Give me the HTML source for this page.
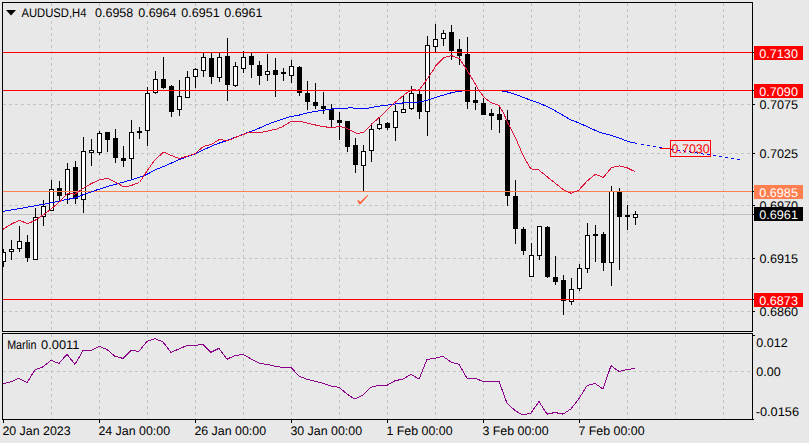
<!DOCTYPE html>
<html><head><meta charset="utf-8"><title>AUDUSD H4</title>
<style>
html,body{margin:0;padding:0;background:#e8e8e8;}
body{width:809px;height:443px;overflow:hidden;font-family:"Liberation Sans",sans-serif;}
</style></head><body>
<svg width="809" height="443" viewBox="0 0 809 443" shape-rendering="crispEdges" style="display:block">
<rect width="809" height="443" fill="#e8e8e8"/>
<line x1="51.5" y1="3" x2="51.5" y2="331" stroke="#c4c4c4" stroke-dasharray="3 3"/>
<line x1="51.5" y1="334" x2="51.5" y2="419" stroke="#c4c4c4" stroke-dasharray="3 3"/>
<line x1="99.5" y1="3" x2="99.5" y2="331" stroke="#c4c4c4" stroke-dasharray="3 3"/>
<line x1="99.5" y1="334" x2="99.5" y2="419" stroke="#c4c4c4" stroke-dasharray="3 3"/>
<line x1="147.5" y1="3" x2="147.5" y2="331" stroke="#c4c4c4" stroke-dasharray="3 3"/>
<line x1="147.5" y1="334" x2="147.5" y2="419" stroke="#c4c4c4" stroke-dasharray="3 3"/>
<line x1="195.5" y1="3" x2="195.5" y2="331" stroke="#c4c4c4" stroke-dasharray="3 3"/>
<line x1="195.5" y1="334" x2="195.5" y2="419" stroke="#c4c4c4" stroke-dasharray="3 3"/>
<line x1="243.5" y1="3" x2="243.5" y2="331" stroke="#c4c4c4" stroke-dasharray="3 3"/>
<line x1="243.5" y1="334" x2="243.5" y2="419" stroke="#c4c4c4" stroke-dasharray="3 3"/>
<line x1="291.5" y1="3" x2="291.5" y2="331" stroke="#c4c4c4" stroke-dasharray="3 3"/>
<line x1="291.5" y1="334" x2="291.5" y2="419" stroke="#c4c4c4" stroke-dasharray="3 3"/>
<line x1="339.5" y1="3" x2="339.5" y2="331" stroke="#c4c4c4" stroke-dasharray="3 3"/>
<line x1="339.5" y1="334" x2="339.5" y2="419" stroke="#c4c4c4" stroke-dasharray="3 3"/>
<line x1="387.5" y1="3" x2="387.5" y2="331" stroke="#c4c4c4" stroke-dasharray="3 3"/>
<line x1="387.5" y1="334" x2="387.5" y2="419" stroke="#c4c4c4" stroke-dasharray="3 3"/>
<line x1="435.5" y1="3" x2="435.5" y2="331" stroke="#c4c4c4" stroke-dasharray="3 3"/>
<line x1="435.5" y1="334" x2="435.5" y2="419" stroke="#c4c4c4" stroke-dasharray="3 3"/>
<line x1="483.5" y1="3" x2="483.5" y2="331" stroke="#c4c4c4" stroke-dasharray="3 3"/>
<line x1="483.5" y1="334" x2="483.5" y2="419" stroke="#c4c4c4" stroke-dasharray="3 3"/>
<line x1="531.5" y1="3" x2="531.5" y2="331" stroke="#c4c4c4" stroke-dasharray="3 3"/>
<line x1="531.5" y1="334" x2="531.5" y2="419" stroke="#c4c4c4" stroke-dasharray="3 3"/>
<line x1="579.5" y1="3" x2="579.5" y2="331" stroke="#c4c4c4" stroke-dasharray="3 3"/>
<line x1="579.5" y1="334" x2="579.5" y2="419" stroke="#c4c4c4" stroke-dasharray="3 3"/>
<line x1="627.5" y1="3" x2="627.5" y2="331" stroke="#c4c4c4" stroke-dasharray="3 3"/>
<line x1="627.5" y1="334" x2="627.5" y2="419" stroke="#c4c4c4" stroke-dasharray="3 3"/>
<line x1="675.5" y1="3" x2="675.5" y2="331" stroke="#c4c4c4" stroke-dasharray="3 3"/>
<line x1="675.5" y1="334" x2="675.5" y2="419" stroke="#c4c4c4" stroke-dasharray="3 3"/>
<line x1="723.5" y1="3" x2="723.5" y2="331" stroke="#c4c4c4" stroke-dasharray="3 3"/>
<line x1="723.5" y1="334" x2="723.5" y2="419" stroke="#c4c4c4" stroke-dasharray="3 3"/>
<line x1="3" y1="104.5" x2="752" y2="104.5" stroke="#c4c4c4" stroke-dasharray="3 3"/>
<line x1="3" y1="153.5" x2="752" y2="153.5" stroke="#c4c4c4" stroke-dasharray="3 3"/>
<line x1="3" y1="205.5" x2="752" y2="205.5" stroke="#c4c4c4" stroke-dasharray="3 3"/>
<line x1="3" y1="258.5" x2="752" y2="258.5" stroke="#c4c4c4" stroke-dasharray="3 3"/>
<line x1="3" y1="311.5" x2="752" y2="311.5" stroke="#c4c4c4" stroke-dasharray="3 3"/>
<line x1="3" y1="371.5" x2="752" y2="371.5" stroke="#c4c4c4" stroke-dasharray="3 3"/>
<line x1="3" y1="214.5" x2="752" y2="214.5" stroke="#c0c0c0"/>
<clipPath id="cm"><rect x="3" y="3" width="749" height="328"/></clipPath><g clip-path="url(#cm)">
<rect x="3" y="249" width="1" height="18" fill="#000"/>
<rect x="1.5" y="252.5" width="4" height="9" fill="#fff" stroke="#000"/>
<rect x="11" y="240" width="1" height="20" fill="#000"/>
<rect x="9.5" y="249.5" width="4" height="2" fill="#fff" stroke="#000"/>
<rect x="19" y="226" width="1" height="26" fill="#000"/>
<rect x="17.5" y="241.5" width="4" height="7" fill="#fff" stroke="#000"/>
<rect x="27" y="235" width="1" height="27" fill="#000"/>
<rect x="35" y="208" width="1" height="52" fill="#000"/>
<rect x="33.5" y="217.5" width="4" height="42" fill="#fff" stroke="#000"/>
<rect x="43" y="200" width="1" height="26" fill="#000"/>
<rect x="41.5" y="206.5" width="4" height="10" fill="#fff" stroke="#000"/>
<rect x="51" y="180" width="1" height="31" fill="#000"/>
<rect x="49.5" y="189.5" width="4" height="21" fill="#fff" stroke="#000"/>
<rect x="59" y="181" width="1" height="20" fill="#000"/>
<rect x="67" y="163" width="1" height="41" fill="#000"/>
<rect x="65.5" y="169.5" width="4" height="25" fill="#fff" stroke="#000"/>
<rect x="75" y="161" width="1" height="43" fill="#000"/>
<rect x="83" y="137" width="1" height="76" fill="#000"/>
<rect x="81.5" y="151.5" width="4" height="48" fill="#fff" stroke="#000"/>
<rect x="91" y="139" width="1" height="27" fill="#000"/>
<rect x="89.5" y="150.5" width="4" height="2" fill="#fff" stroke="#000"/>
<rect x="99" y="131" width="1" height="24" fill="#000"/>
<rect x="97.5" y="133.5" width="4" height="19" fill="#fff" stroke="#000"/>
<rect x="107" y="132" width="1" height="20" fill="#000"/>
<rect x="115" y="129" width="1" height="34" fill="#000"/>
<rect x="123" y="146" width="1" height="21" fill="#000"/>
<rect x="131" y="120" width="1" height="60" fill="#000"/>
<rect x="129.5" y="132.5" width="4" height="26" fill="#fff" stroke="#000"/>
<rect x="139" y="127" width="1" height="12" fill="#000"/>
<rect x="147" y="87" width="1" height="59" fill="#000"/>
<rect x="145.5" y="93.5" width="4" height="37" fill="#fff" stroke="#000"/>
<rect x="155" y="71" width="1" height="23" fill="#000"/>
<rect x="153.5" y="79.5" width="4" height="13" fill="#fff" stroke="#000"/>
<rect x="163" y="57" width="1" height="32" fill="#000"/>
<rect x="171" y="85" width="1" height="32" fill="#000"/>
<rect x="179" y="80" width="1" height="36" fill="#000"/>
<rect x="177.5" y="96.5" width="4" height="13" fill="#fff" stroke="#000"/>
<rect x="187" y="71" width="1" height="27" fill="#000"/>
<rect x="185.5" y="77.5" width="4" height="20" fill="#fff" stroke="#000"/>
<rect x="195" y="68" width="1" height="20" fill="#000"/>
<rect x="193.5" y="69.5" width="4" height="7" fill="#fff" stroke="#000"/>
<rect x="203" y="52" width="1" height="25" fill="#000"/>
<rect x="201.5" y="57.5" width="4" height="13" fill="#fff" stroke="#000"/>
<rect x="211" y="52" width="1" height="32" fill="#000"/>
<rect x="219" y="52" width="1" height="30" fill="#000"/>
<rect x="217.5" y="57.5" width="4" height="20" fill="#fff" stroke="#000"/>
<rect x="227" y="38" width="1" height="63" fill="#000"/>
<rect x="235" y="62" width="1" height="25" fill="#000"/>
<rect x="233.5" y="66.5" width="4" height="19" fill="#fff" stroke="#000"/>
<rect x="243" y="51" width="1" height="22" fill="#000"/>
<rect x="241.5" y="57.5" width="4" height="11" fill="#fff" stroke="#000"/>
<rect x="251" y="53" width="1" height="25" fill="#000"/>
<rect x="259" y="61" width="1" height="24" fill="#000"/>
<rect x="267" y="54" width="1" height="27" fill="#000"/>
<rect x="265.5" y="71.5" width="4" height="3" fill="#fff" stroke="#000"/>
<rect x="275" y="58" width="1" height="39" fill="#000"/>
<rect x="283" y="68" width="1" height="13" fill="#000"/>
<rect x="291" y="60" width="1" height="23" fill="#000"/>
<rect x="289.5" y="66.5" width="4" height="9" fill="#fff" stroke="#000"/>
<rect x="299" y="66" width="1" height="30" fill="#000"/>
<rect x="307" y="81" width="1" height="29" fill="#000"/>
<rect x="315" y="83" width="1" height="26" fill="#000"/>
<rect x="323" y="92" width="1" height="22" fill="#000"/>
<rect x="331" y="104" width="1" height="23" fill="#000"/>
<rect x="339" y="112" width="1" height="28" fill="#000"/>
<rect x="347" y="121" width="1" height="31" fill="#000"/>
<rect x="355" y="138" width="1" height="35" fill="#000"/>
<rect x="363" y="145" width="1" height="46" fill="#000"/>
<rect x="361.5" y="151.5" width="4" height="14" fill="#fff" stroke="#000"/>
<rect x="371" y="123" width="1" height="39" fill="#000"/>
<rect x="369.5" y="129.5" width="4" height="21" fill="#fff" stroke="#000"/>
<rect x="379" y="117" width="1" height="13" fill="#000"/>
<rect x="377.5" y="124.5" width="4" height="4" fill="#fff" stroke="#000"/>
<rect x="387" y="122" width="1" height="8" fill="#000"/>
<rect x="395" y="105" width="1" height="36" fill="#000"/>
<rect x="393.5" y="111.5" width="4" height="16" fill="#fff" stroke="#000"/>
<rect x="403" y="96" width="1" height="17" fill="#000"/>
<rect x="401.5" y="109.5" width="4" height="3" fill="#fff" stroke="#000"/>
<rect x="411" y="86" width="1" height="24" fill="#000"/>
<rect x="409.5" y="93.5" width="4" height="15" fill="#fff" stroke="#000"/>
<rect x="419" y="90" width="1" height="29" fill="#000"/>
<rect x="427" y="36" width="1" height="100" fill="#000"/>
<rect x="425.5" y="45.5" width="4" height="66" fill="#fff" stroke="#000"/>
<rect x="435" y="24" width="1" height="28" fill="#000"/>
<rect x="433.5" y="39.5" width="4" height="7" fill="#fff" stroke="#000"/>
<rect x="443" y="30" width="1" height="16" fill="#000"/>
<rect x="441.5" y="33.5" width="4" height="5" fill="#fff" stroke="#000"/>
<rect x="451" y="25" width="1" height="35" fill="#000"/>
<rect x="459" y="39" width="1" height="26" fill="#000"/>
<rect x="467" y="37" width="1" height="72" fill="#000"/>
<rect x="475" y="87" width="1" height="23" fill="#000"/>
<rect x="483" y="98" width="1" height="17" fill="#000"/>
<rect x="491" y="109" width="1" height="21" fill="#000"/>
<rect x="499" y="106" width="1" height="27" fill="#000"/>
<rect x="507" y="110" width="1" height="96" fill="#000"/>
<rect x="515" y="180" width="1" height="64" fill="#000"/>
<rect x="523" y="227" width="1" height="28" fill="#000"/>
<rect x="531" y="243" width="1" height="34" fill="#000"/>
<rect x="529.5" y="255.5" width="4" height="21" fill="#fff" stroke="#000"/>
<rect x="539" y="226" width="1" height="34" fill="#000"/>
<rect x="537.5" y="226.5" width="4" height="29" fill="#fff" stroke="#000"/>
<rect x="547" y="226" width="1" height="52" fill="#000"/>
<rect x="555" y="256" width="1" height="29" fill="#000"/>
<rect x="563" y="275" width="1" height="40" fill="#000"/>
<rect x="571" y="278" width="1" height="27" fill="#000"/>
<rect x="569.5" y="289.5" width="4" height="12" fill="#fff" stroke="#000"/>
<rect x="579" y="264" width="1" height="27" fill="#000"/>
<rect x="577.5" y="268.5" width="4" height="20" fill="#fff" stroke="#000"/>
<rect x="587" y="223" width="1" height="50" fill="#000"/>
<rect x="585.5" y="235.5" width="4" height="33" fill="#fff" stroke="#000"/>
<rect x="595" y="225" width="1" height="37" fill="#000"/>
<rect x="603" y="232" width="1" height="39" fill="#000"/>
<rect x="611" y="186" width="1" height="100" fill="#000"/>
<rect x="609.5" y="191.5" width="4" height="71" fill="#fff" stroke="#000"/>
<rect x="619" y="188" width="1" height="82" fill="#000"/>
<rect x="627" y="205" width="1" height="25" fill="#000"/>
<rect x="635" y="211" width="1" height="14" fill="#000"/>
<rect x="633.5" y="214.5" width="4" height="3" fill="#fff" stroke="#000"/>
<rect x="25" y="242" width="5" height="16" fill="#000"/>
<rect x="57" y="188" width="5" height="8" fill="#000"/>
<rect x="73" y="167" width="5" height="32" fill="#000"/>
<rect x="105" y="132" width="5" height="8" fill="#000"/>
<rect x="113" y="138" width="5" height="20" fill="#000"/>
<rect x="121" y="158" width="5" height="3" fill="#000"/>
<rect x="137" y="131" width="5" height="2" fill="#000"/>
<rect x="161" y="79" width="5" height="9" fill="#000"/>
<rect x="169" y="86" width="5" height="26" fill="#000"/>
<rect x="209" y="58" width="5" height="19" fill="#000"/>
<rect x="225" y="56" width="5" height="29" fill="#000"/>
<rect x="249" y="56" width="5" height="9" fill="#000"/>
<rect x="257" y="65" width="5" height="11" fill="#000"/>
<rect x="273" y="70" width="5" height="5" fill="#000"/>
<rect x="281" y="72" width="5" height="2" fill="#000"/>
<rect x="297" y="67" width="5" height="26" fill="#000"/>
<rect x="305" y="93" width="5" height="9" fill="#000"/>
<rect x="313" y="102" width="5" height="4" fill="#000"/>
<rect x="321" y="106" width="5" height="3" fill="#000"/>
<rect x="329" y="109" width="5" height="11" fill="#000"/>
<rect x="337" y="120" width="5" height="3" fill="#000"/>
<rect x="345" y="121" width="5" height="26" fill="#000"/>
<rect x="353" y="145" width="5" height="20" fill="#000"/>
<rect x="385" y="123" width="5" height="5" fill="#000"/>
<rect x="417" y="94" width="5" height="18" fill="#000"/>
<rect x="449" y="32" width="5" height="19" fill="#000"/>
<rect x="457" y="49" width="5" height="7" fill="#000"/>
<rect x="465" y="54" width="5" height="48" fill="#000"/>
<rect x="473" y="100" width="5" height="3" fill="#000"/>
<rect x="481" y="103" width="5" height="12" fill="#000"/>
<rect x="489" y="113" width="5" height="3" fill="#000"/>
<rect x="497" y="114" width="5" height="6" fill="#000"/>
<rect x="505" y="120" width="5" height="76" fill="#000"/>
<rect x="513" y="196" width="5" height="33" fill="#000"/>
<rect x="521" y="229" width="5" height="22" fill="#000"/>
<rect x="545" y="227" width="5" height="50" fill="#000"/>
<rect x="553" y="277" width="5" height="5" fill="#000"/>
<rect x="561" y="280" width="5" height="21" fill="#000"/>
<rect x="593" y="234" width="5" height="2" fill="#000"/>
<rect x="601" y="234" width="5" height="29" fill="#000"/>
<rect x="617" y="192" width="5" height="25" fill="#000"/>
<rect x="625" y="215" width="5" height="2" fill="#000"/>
<line x1="3" y1="191.5" x2="754" y2="191.5" stroke="#ff7f50"/>
<polyline points="3.0,211.4 23.9,207.8 51.7,202.7 60.0,200.9 75.5,197.8 84.8,194.1 95.4,190.4 106.0,186.9 115.9,184.2 131.4,179.8 144.5,175.5 156.9,169.2 167.4,164.9 179.8,159.3 194.8,154.1 204.7,149.2 217.1,143.8 227.0,140.5 237.0,136.7 246.9,132.8 255.0,130.0 266.1,125.0 277.2,120.8 288.4,117.2 299.5,115.0 310.6,112.2 321.7,110.4 332.9,108.9 340.0,108.5 351.1,107.8 358.9,108.7 366.7,108.4 376.7,106.5 387.8,105.0 397.8,103.6 409.0,102.2 417.9,102.2 424.5,100.9 431.1,99.1 442.2,95.4 453.4,92.2 462.8,90.9 480.0,90.2 504.5,91.1 510.0,92.8 519.5,95.9 531.5,100.5 540.0,103.4 549.9,107.9 559.9,113.4 569.8,119.4 579.8,123.3 589.7,127.8 599.6,132.3 609.6,134.8 619.5,138.2 628.6,141.7 637.0,143.4" fill="none" stroke="#0000ff" stroke-width="1" />
<polyline points="641.0,144.4 740.3,159.7" fill="none" stroke="#0000ff" stroke-width="1" stroke-dasharray="3 3.09"/>
<polyline points="3.0,229.3 11.9,223.7 19.3,220.4 27.8,223.7 34.3,220.7 43.7,214.7 51.7,208.5 60.0,201.4 67.5,193.6 74.9,194.1 84.8,187.3 91.5,183.5 99.8,179.8 107.2,178.3 114.7,181.7 124.0,187.1 131.4,185.4 139.5,182.5 147.0,171.1 154.4,160.4 163.7,152.1 171.1,155.4 179.2,158.5 186.0,156.6 194.8,153.8 203.6,146.3 211.6,144.3 219.5,139.4 227.5,140.8 235.4,137.4 249.3,132.2 255.0,132.6 262.8,132.0 269.5,130.6 277.2,128.9 282.8,126.5 290.6,121.7 300.6,121.5 308.4,123.4 319.5,125.9 328.4,127.3 332.9,127.5 339.5,126.5 345.0,127.5 351.7,130.9 356.7,133.5 363.6,132.5 371.7,124.0 378.9,117.8 384.5,112.8 392.3,104.5 400.0,98.4 406.7,92.8 411.2,89.8 415.6,89.8 417.9,90.6 420.0,88.8 425.7,81.1 433.3,70.0 435.7,65.7 443.7,57.7 451.6,55.7 459.6,58.7 466.7,69.6 475.6,84.5 479.0,90.6 484.5,97.8 491.2,102.8 499.0,105.4 503.4,112.8 507.6,122.7 515.5,137.7 523.5,156.5 530.8,168.9 538.7,169.9 549.6,178.8 563.6,189.8 571.1,193.3 578.5,190.4 587.4,180.8 595.4,174.3 603.3,177.4 611.7,167.5 619.2,165.9 627.2,167.9 634.7,171.5" fill="none" stroke="#dc143c" stroke-width="1" />
<line x1="3" y1="52.5" x2="754" y2="52.5" stroke="#ff0000"/>
<line x1="3" y1="90.5" x2="754" y2="90.5" stroke="#ff0000"/>
<line x1="3" y1="299.5" x2="754" y2="299.5" stroke="#ff0000"/>
</g>
<polyline points="3.0,383.7 11.0,381.7 19.0,378.3 27.0,382.7 35.0,369.8 43.0,366.8 51.0,360.4 59.0,363.4 67.0,354.3 75.0,364.4 83.0,350.5 91.0,350.5 99.0,346.3 107.0,349.5 115.0,356.3 123.0,358.4 131.0,350.5 139.0,351.3 147.0,341.3 155.0,338.6 163.0,342.0 171.0,352.5 179.0,348.9 187.0,345.5 195.0,345.5 203.0,344.3 211.0,352.3 219.0,348.3 227.0,359.2 235.0,355.5 243.0,354.5 251.0,358.8 259.0,363.2 267.0,364.4 275.0,366.2 283.0,367.4 291.0,367.4 299.0,376.1 307.0,379.3 315.0,381.3 323.0,383.3 331.0,386.1 339.0,387.3 347.0,394.0 355.0,399.2 363.0,395.2 371.0,387.3 379.0,385.3 387.0,385.3 395.0,380.7 403.0,379.1 411.0,374.3 419.0,379.1 427.0,359.4 435.0,358.2 443.0,356.3 451.0,362.2 459.0,364.2 467.0,378.3 475.0,378.3 483.0,381.3 491.0,381.3 499.0,381.3 507.0,403.2 515.0,410.5 523.0,415.1 531.0,412.9 539.0,401.6 547.0,414.1 555.0,412.5 563.0,414.1 571.0,408.9 579.0,398.6 587.0,385.7 595.0,383.3 603.0,389.1 611.0,365.7 619.0,371.4 627.0,369.6 635.0,368.3" fill="none" stroke="#8b008b" stroke-width="1" />
<g fill="none" stroke="#000">
<rect x="2.5" y="2.5" width="750" height="329"/>
<rect x="2.5" y="333.5" width="750" height="86"/>
</g>
<rect x="753" y="104" width="2" height="1" fill="#000"/>
<rect x="753" y="153" width="2" height="1" fill="#000"/>
<rect x="753" y="205" width="2" height="1" fill="#000"/>
<rect x="753" y="258" width="2" height="1" fill="#000"/>
<rect x="753" y="311" width="2" height="1" fill="#000"/>
<rect x="753" y="335" width="2" height="1" fill="#000"/>
<rect x="753" y="419" width="1" height="1" fill="#000"/>
<rect x="753" y="52" width="2" height="1" fill="#000"/>
<rect x="753" y="90" width="2" height="1" fill="#000"/>
<rect x="753" y="191" width="2" height="1" fill="#000"/>
<rect x="753" y="299" width="2" height="1" fill="#000"/>
<rect x="753" y="214" width="2" height="1" fill="#000"/>
<rect x="3" y="420" width="1" height="3" fill="#000"/>
<rect x="99" y="420" width="1" height="3" fill="#000"/>
<rect x="195" y="420" width="1" height="3" fill="#000"/>
<rect x="291" y="420" width="1" height="3" fill="#000"/>
<rect x="387" y="420" width="1" height="3" fill="#000"/>
<rect x="483" y="420" width="1" height="3" fill="#000"/>
<rect x="579" y="420" width="1" height="3" fill="#000"/>
<path d="M357.2,200.7 L358.5,199.9 L360.1,202 L367.5,195 L368.3,195.6 L360.4,204.2 L359.5,204.2 Z" fill="#ff5a2a" shape-rendering="auto"/>
<line x1="660" y1="148.5" x2="670" y2="148.5" stroke="#ff0000"/>
<rect x="670.5" y="140.5" width="40" height="16" fill="none" stroke="#ff0000"/>
<polygon points="6,10 16,10 11,15.5" fill="#000" shape-rendering="auto"/>
<g font-family="Liberation Sans, sans-serif" shape-rendering="auto" text-rendering="geometricPrecision">
<rect x="20" y="6" width="243" height="13.5" fill="#e8e8e8"/>
<rect x="6" y="337" width="74" height="14" fill="#e8e8e8"/>
<text x="21.5" y="16.7" fill="#000" font-size="12.5" textLength="65" lengthAdjust="spacingAndGlyphs">AUDUSD,H4</text>
<text x="95" y="16.7" fill="#000" font-size="12.5" textLength="38.3" lengthAdjust="spacingAndGlyphs">0.6958</text>
<text x="138.2" y="16.7" fill="#000" font-size="12.5" textLength="38.3" lengthAdjust="spacingAndGlyphs">0.6964</text>
<text x="181.3" y="16.7" fill="#000" font-size="12.5" textLength="38.3" lengthAdjust="spacingAndGlyphs">0.6951</text>
<text x="224.2" y="16.7" fill="#000" font-size="12.5" textLength="38.3" lengthAdjust="spacingAndGlyphs">0.6961</text>
<text x="7.2" y="348.9" fill="#000" font-size="12.5" textLength="29.2" lengthAdjust="spacingAndGlyphs">Marlin</text>
<text x="41.1" y="348.9" fill="#000" font-size="12.5" textLength="38.3" lengthAdjust="spacingAndGlyphs">0.0011</text>
<text x="759.4" y="108.9" fill="#000" font-size="12.5" textLength="38.6" lengthAdjust="spacingAndGlyphs">0.7075</text>
<text x="759.4" y="157.9" fill="#000" font-size="12.5" textLength="38.6" lengthAdjust="spacingAndGlyphs">0.7025</text>
<text x="759.4" y="209.9" fill="#000" font-size="12.5" textLength="38.6" lengthAdjust="spacingAndGlyphs">0.6970</text>
<text x="759.4" y="262.9" fill="#000" font-size="12.5" textLength="38.6" lengthAdjust="spacingAndGlyphs">0.6915</text>
<text x="759.4" y="315.9" fill="#000" font-size="12.5" textLength="38.6" lengthAdjust="spacingAndGlyphs">0.6860</text>
<rect x="754" y="46" width="49" height="14" fill="#ff0000"/>
<text x="759.3" y="57.8" fill="#fff" font-size="12.5" textLength="38.6" lengthAdjust="spacingAndGlyphs">0.7130</text>
<rect x="754" y="84" width="49" height="14" fill="#ff0000"/>
<text x="759.3" y="95.8" fill="#fff" font-size="12.5" textLength="38.6" lengthAdjust="spacingAndGlyphs">0.7090</text>
<rect x="754" y="185" width="49" height="14" fill="#ff7f50"/>
<text x="759.3" y="196.8" fill="#fff" font-size="12.5" textLength="38.6" lengthAdjust="spacingAndGlyphs">0.6985</text>
<rect x="754" y="293" width="49" height="14" fill="#ff0000"/>
<text x="759.3" y="304.8" fill="#fff" font-size="12.5" textLength="38.6" lengthAdjust="spacingAndGlyphs">0.6873</text>
<rect x="754" y="207" width="49" height="14" fill="#000"/>
<text x="759.3" y="218.60000000000002" fill="#fff" font-size="12.5" textLength="38.6" lengthAdjust="spacingAndGlyphs">0.6961</text>
<text x="671.5" y="152.6" fill="#ff0000" font-size="12.5" textLength="38.3" lengthAdjust="spacingAndGlyphs">0.7030</text>
<text x="756.3" y="346.5" fill="#000" font-size="12.5">0.012</text>
<text x="756.3" y="375.5" fill="#000" font-size="12.5">0.00</text>
<text x="755.7" y="415.5" fill="#000" font-size="12.5" textLength="43.4" lengthAdjust="spacingAndGlyphs">-0.0156</text>
<text x="2.4" y="435.2" fill="#000" font-size="12.4">20 Jan 2023</text>
<text x="98.4" y="435.2" fill="#000" font-size="12.4">24 Jan 00:00</text>
<text x="194.4" y="435.2" fill="#000" font-size="12.4">26 Jan 00:00</text>
<text x="290.4" y="435.2" fill="#000" font-size="12.4">30 Jan 00:00</text>
<text x="386.4" y="435.2" fill="#000" font-size="12.4">1 Feb 00:00</text>
<text x="482.4" y="435.2" fill="#000" font-size="12.4">3 Feb 00:00</text>
<text x="578.4" y="435.2" fill="#000" font-size="12.4">7 Feb 00:00</text>
</g>
</svg>
</body></html>
